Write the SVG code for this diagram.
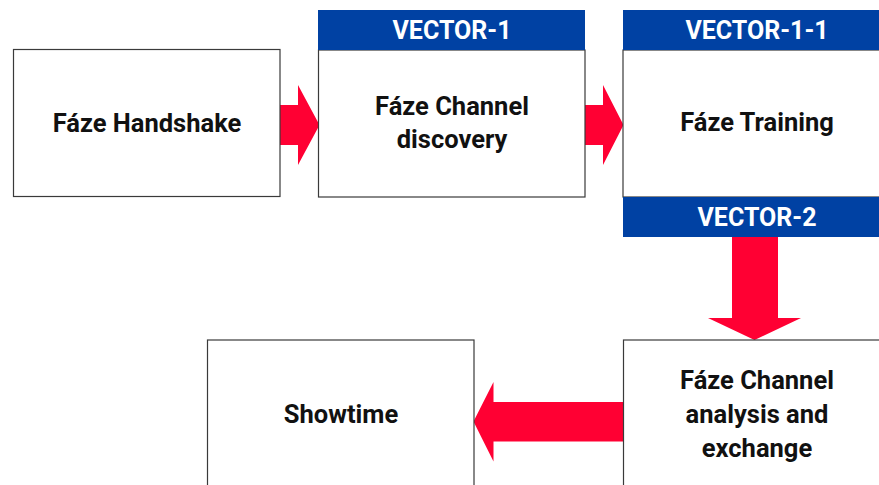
<svg xmlns="http://www.w3.org/2000/svg" width="879" height="485" viewBox="0 0 879 485">
  <style>
    .box { fill: #ffffff; stroke: #3a3a3a; stroke-width: 1.2; }
    .bar { fill: #0041a3; }
    .arrow { fill: #ff0033; }
    .label { font-family: Roboto, "Liberation Sans", sans-serif; font-weight: 700; font-size: 25.5px; fill: #111111; text-anchor: middle; }
    .tag { font-family: Roboto, "Liberation Sans", sans-serif; font-weight: 700; font-size: 25px; fill: #ffffff; text-anchor: middle; }
  </style>
  <rect width="879" height="485" fill="#ffffff"/>

  <g id="connectors">
    <polygon class="arrow" points="280,105 298,105 298,85 319.5,125 298,165 298,145 280,145"/>
    <polygon class="arrow" points="585,105 603,105 603,85 623.5,125 603,165 603,145 585,145"/>
    <polygon class="arrow" points="732,237 778,237 778,318 801,318 754.5,340 708,318 732,318"/>
    <polygon class="arrow" points="623,402 493.5,402 493.5,382 473.5,421.5 493.5,461.5 493.5,441.5 623,441.5"/>
  </g>

  <g id="handshake">
    <rect class="box" x="13.5" y="49.5" width="266.5" height="147"/>
    <text class="label" x="147" y="132">Fáze Handshake</text>
  </g>

  <g id="channel-discovery">
    <rect class="box" x="318.5" y="50" width="266.5" height="147"/>
    <rect class="bar" x="318" y="10" width="267" height="40"/>
    <text class="tag" x="452" y="39">VECTOR-1</text>
    <text class="label" x="452" y="115">Fáze Channel</text>
    <text class="label" x="452" y="148">discovery</text>
  </g>

  <g id="training">
    <rect class="box" x="623" y="50" width="267" height="147"/>
    <rect class="bar" x="623" y="10" width="267" height="40"/>
    <rect class="bar" x="623" y="197" width="267" height="40"/>
    <text class="tag" x="757" y="39">VECTOR-1-1</text>
    <text class="label" x="757" y="131">Fáze Training</text>
    <text class="tag" x="757" y="226">VECTOR-2</text>
  </g>

  <g id="channel-analysis">
    <rect class="box" x="623.5" y="340" width="267" height="160"/>
    <text class="label" x="757" y="389">Fáze Channel</text>
    <text class="label" x="757" y="423">analysis and</text>
    <text class="label" x="757" y="457">exchange</text>
  </g>

  <g id="showtime">
    <rect class="box" x="207.5" y="340" width="266.5" height="160"/>
    <text class="label" x="341" y="423">Showtime</text>
  </g>
</svg>
